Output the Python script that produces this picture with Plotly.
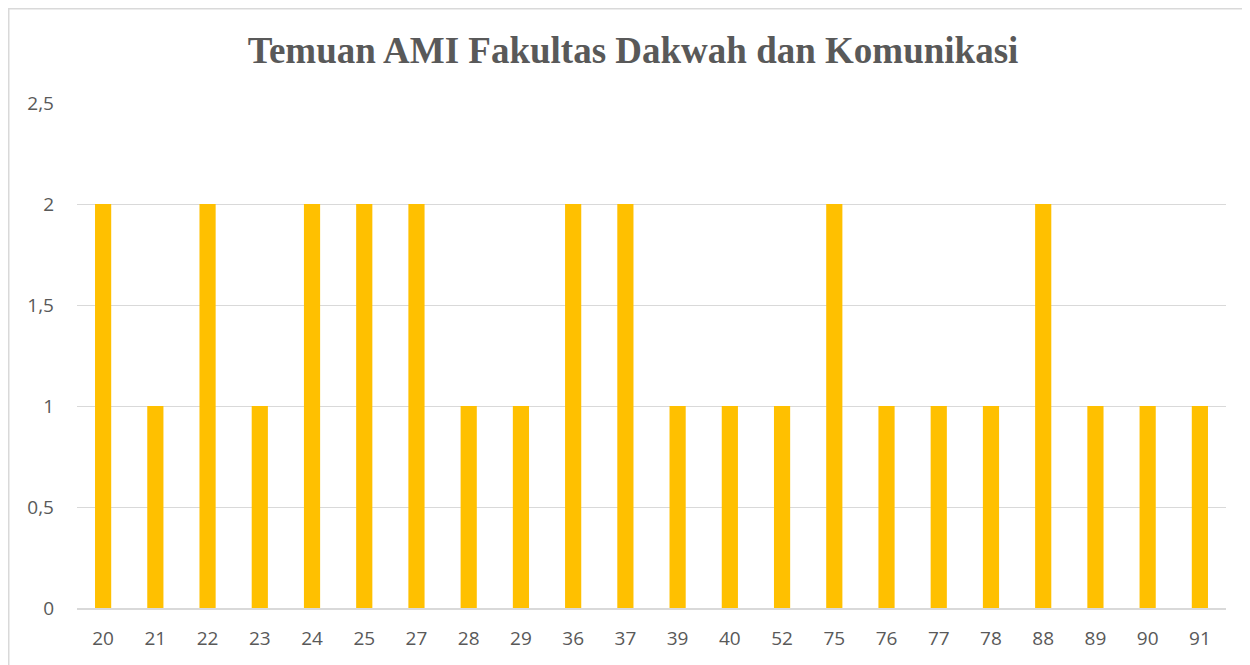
import plotly.graph_objects as go

categories = ["20", "21", "22", "23", "24", "25", "27", "28", "29", "36", "37",
              "39", "40", "52", "75", "76", "77", "78", "88", "89", "90", "91"]
values = [2, 1, 2, 1, 2, 2, 2, 1, 1, 2, 2, 1, 1, 1, 2, 1, 1, 1, 2, 1, 1, 1]
y_ticks = [0, 0.5, 1, 1.5, 2, 2.5]
y_tick_labels = ["0", "0,5", "1", "1,5", "2", "2,5"]

fig = go.Figure(go.Bar(x=categories, y=values, marker=dict(color="#FFC000", line=dict(width=0))))

# page body has an 8px margin, so the figure is placed at (8, 8)
OFF = 8
W, H = 1250 - OFF, 665 - OFF
L, R, T, B = 77 - OFF, 24, 103 - OFF, 57
pw, ph = W - L - R, H - T - B

fig.update_layout(
    width=W, height=H,
    margin=dict(l=L, r=R, t=T, b=B),
    paper_bgcolor="white", plot_bgcolor="white",
    bargap=0.69,
    separators=",.",
    showlegend=False,
    title=dict(text="<b>Temuan AMI Fakultas Dakwah dan Komunikasi</b>",
               x=(633 - OFF - L) / pw, xref="paper", xanchor="center",
               y=1 - (50 - OFF) / H, yanchor="middle",
               font=dict(family="Liberation Serif", size=37, color="#595959")),
    font=dict(family="Open Sans", color="#595959"),
    xaxis=dict(type="category", showgrid=False, showline=True, linecolor="#D9D9D9",
               linewidth=1.5, ticks="", tickfont=dict(size=19, color="#595959"),
               ticklabelstandoff=12),
    yaxis=dict(range=[0, 2.5], tickvals=y_ticks, ticktext=y_tick_labels,
               showgrid=True, gridcolor="#D9D9D9", gridwidth=1.2, zeroline=False,
               showline=False, ticks="", tickfont=dict(size=19, color="#595959"),
               ticklabelstandoff=22),
    shapes=[dict(type="rect", xref="paper", yref="paper",
                 x0=(0.75 - L) / pw, x1=(W + 20 - L) / pw,
                 y0=-(B + 20) / ph, y1=1 + (T - 0.75) / ph,
                 line=dict(color="#D9D9D9", width=1.5), layer="below")],
)

fig.write_html("out.html")
